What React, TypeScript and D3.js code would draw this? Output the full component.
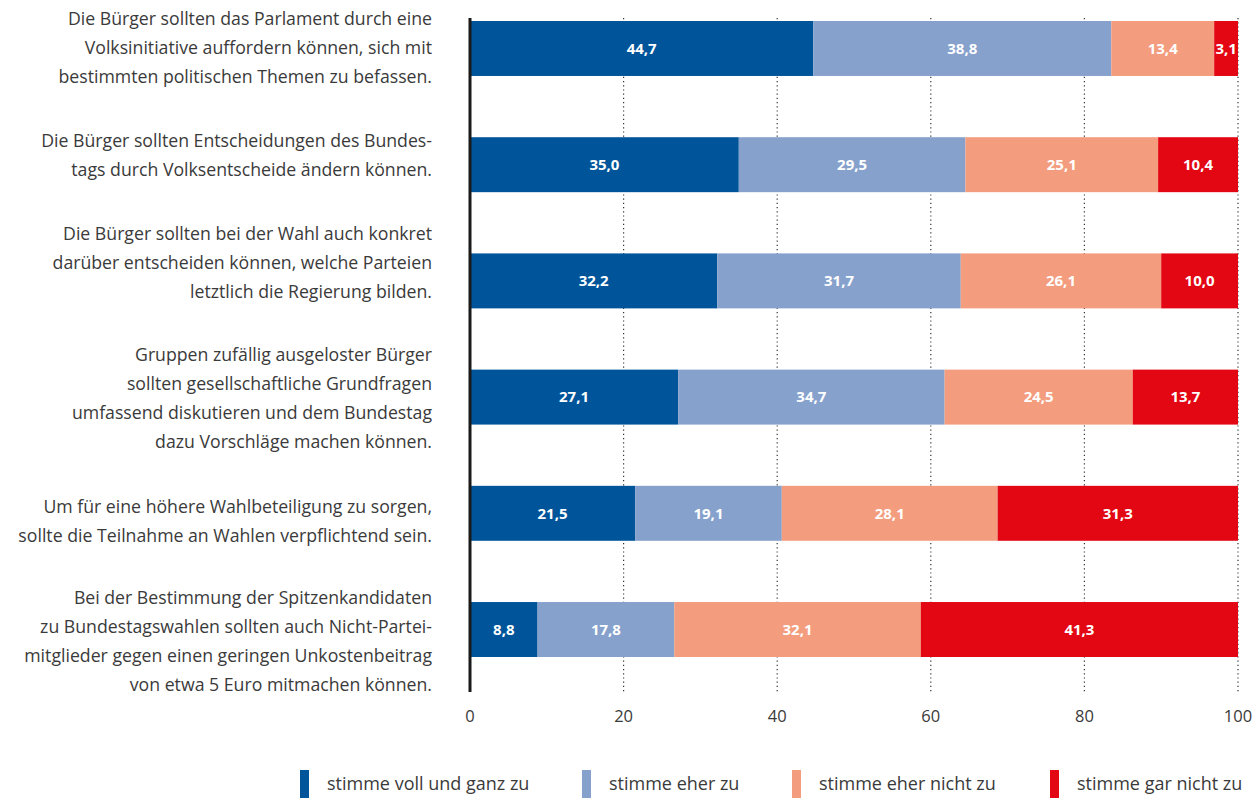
import * as d3 from "d3"
import React, { useEffect, useRef } from "react"

const statements = [
  ["Die Bürger sollten das Parlament durch eine", "Volksinitiative auffordern können, sich mit", "bestimmten politischen Themen zu befassen."],
  ["Die Bürger sollten Entscheidungen des Bundes-", "tags durch Volksentscheide ändern können."],
  ["Die Bürger sollten bei der Wahl auch konkret", "darüber entscheiden können, welche Parteien", "letztlich die Regierung bilden."],
  ["Gruppen zufällig ausgeloster Bürger", "sollten gesellschaftliche Grundfragen", "umfassend diskutieren und dem Bundestag", "dazu Vorschläge machen können."],
  ["Um für eine höhere Wahlbeteiligung zu sorgen,", "sollte die Teilnahme an Wahlen verpflichtend sein."],
  ["Bei der Bestimmung der Spitzenkandidaten", "zu Bundestagswahlen sollten auch Nicht-Partei-", "mitglieder gegen einen geringen Unkostenbeitrag", "von etwa 5 Euro mitmachen können."],
]

const vollGanz = [44.7, 35.0, 32.2, 27.1, 21.5, 8.8]
const eher = [38.8, 29.5, 31.7, 34.7, 19.1, 17.8]
const eherNicht = [13.4, 25.1, 26.1, 24.5, 28.1, 32.1]
const garNicht = [3.1, 10.4, 10.0, 13.7, 31.3, 41.3]

const seriesNames = ["stimme voll und ganz zu", "stimme eher zu", "stimme eher nicht zu", "stimme gar nicht zu"]
const colors = ["#00559a", "#86a1cc", "#f39c7e", "#e30613"]
const xTicks = [0, 20, 40, 60, 80, 100]

const W = 1254
const H = 804
const FONT = "'Open Sans', 'Noto Sans', sans-serif"
// the label blocks are not exactly centred on their bars in the original
const labelShift = [0, -8, -17, 2, 9, 13]

const App = () => {
  const ref = useRef<SVGSVGElement>(null)

  useEffect(() => {
    const svg = d3.select(ref.current)
    svg.selectAll("*").remove()

    const x = d3.scaleLinear().domain([0, 100]).range([470, 1238])
    const y = d3
      .scaleBand()
      .domain(statements.map((d, i) => String(i)))
      .range([21, 657])
      .paddingInner(0.527)
      .paddingOuter(0)

    const table = statements.map((s, i) => ({
      key: String(i),
      values: [vollGanz[i], eher[i], eherNicht[i], garNicht[i]],
    }))

    // dotted gridlines
    svg
      .append("g")
      .selectAll("line")
      .data(xTicks.slice(1))
      .join("line")
      .attr("x1", (d) => x(d))
      .attr("x2", (d) => x(d))
      .attr("y1", 18)
      .attr("y2", 692)
      .attr("stroke", "#333")
      .attr("stroke-width", 1.2)
      .attr("stroke-dasharray", "1.2,3")

    // bars
    const rows = svg
      .append("g")
      .selectAll("g")
      .data(table)
      .join("g")
      .attr("transform", (d) => `translate(0,${y(d.key)})`)

    rows.each(function (d) {
      const g = d3.select(this)
      let acc = 0
      const segs = d.values.map((v, j) => {
        const s = { start: acc, end: acc + v, v, j }
        acc += v
        return s
      })
      g.selectAll("rect")
        .data(segs)
        .join("rect")
        .attr("x", (s) => x(s.start))
        .attr("width", (s) => x(s.end) - x(s.start))
        .attr("y", 0)
        .attr("height", y.bandwidth())
        .attr("fill", (s) => colors[s.j])
      g.selectAll("text")
        .data(segs)
        .join("text")
        .attr("x", (s) => (x(s.start) + x(s.end)) / 2)
        .attr("y", y.bandwidth() / 2)
        .attr("dy", "0.35em")
        .attr("text-anchor", "middle")
        .attr("fill", "#fff")
        .attr("font-family", FONT)
        .attr("font-weight", 700)
        .attr("font-size", 15)
        .text((s) => s.v.toFixed(1).replace(".", ","))
    })

    // statement labels
    const lineH = 29
    svg
      .append("g")
      .selectAll("text")
      .data(statements)
      .join("text")
      .attr("text-anchor", "end")
      .attr("font-family", FONT)
      .attr("font-size", 17.7)
      .attr("fill", "#3a3a3a")
      .each(function (lines, i) {
        const cy = (y(String(i)) as number) + y.bandwidth() / 2 + labelShift[i]
        const top = cy - ((lines.length - 1) * lineH) / 2
        d3.select(this)
          .selectAll("tspan")
          .data(lines)
          .join("tspan")
          .attr("x", 432)
          .attr("y", (l, k) => top + k * lineH)
          .attr("dy", "0.3em")
          .text((l) => l)
      })

    // axis line
    svg
      .append("line")
      .attr("x1", x(0))
      .attr("x2", x(0))
      .attr("y1", 18)
      .attr("y2", 692)
      .attr("stroke", "#1a1a1a")
      .attr("stroke-width", 3)

    // tick labels
    svg
      .append("g")
      .selectAll("text")
      .data(xTicks)
      .join("text")
      .attr("x", (d) => x(d))
      .attr("y", 716)
      .attr("dy", "0.35em")
      .attr("text-anchor", "middle")
      .attr("font-family", FONT)
      .attr("font-size", 16.5)
      .attr("fill", "#3a3a3a")
      .text((d) => d)

    // legend
    const legendX = [300, 582, 792, 1050]
    const lg = svg
      .append("g")
      .selectAll("g")
      .data(seriesNames)
      .join("g")
      .attr("transform", (d, i) => `translate(${legendX[i]},770)`)
    lg.append("rect").attr("width", 9).attr("height", 28).attr("fill", (d, i) => colors[i])
    lg.append("text")
      .attr("x", 27)
      .attr("y", 14)
      .attr("dy", "0.35em")
      .attr("font-family", FONT)
      .attr("font-size", 18)
      .attr("fill", "#3a3a3a")
      .text((d) => d)
  }, [])

  return (
    <svg
      ref={ref}
      width={W}
      height={H}
      viewBox={`0 0 ${W} ${H}`}
      style={{ position: "absolute", left: 0, top: 0, background: "#fff" }}
    />
  )
}

export default App
